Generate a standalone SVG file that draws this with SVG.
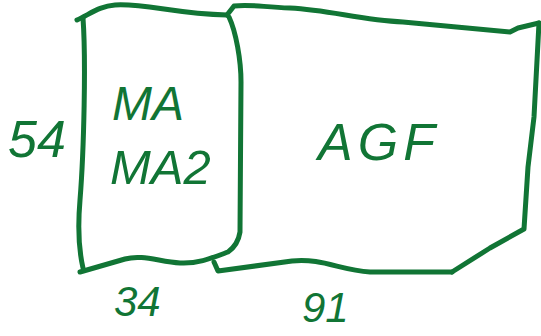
<svg xmlns="http://www.w3.org/2000/svg" width="541" height="336" viewBox="0 0 541 336">
<style>
.s{fill:none;stroke:#117535;stroke-width:5;stroke-linecap:round;stroke-linejoin:round}
.t{fill:#117535;font-family:"Liberation Sans",Arial,sans-serif;font-style:italic}
</style>
<rect width="541" height="336" fill="#fff"/>
<g id="box-ma">
<path class="s" d="M77,20 C90,14 100,6 115,5 C145,3 175,14 227,15"/>
<path class="s" d="M83,18 C86,60 84,150 80,200 C77,235 80,255 83,268"/>
<path class="s" d="M229,17 C236,32 241,60 241,82 L240,232 Q238,245 228,252 C212,258 198,264 180,263 C160,262 142,254 125,259 L80,272"/>
<text class="t" x="112" y="120" font-size="48">MA</text>
<text class="t" x="110" y="184" font-size="49">MA2</text>
</g>
<g id="box-agf">
<path class="s" d="M227,15 L234,6 C250,4 262,7 290,8 C330,10 360,20 403,22 L510,32 L518,28 L539,23"/>
<path class="s" d="M539,23 L534,117 L528,167 L524,229 L490,248 L452,272"/>
<path class="s" d="M452,272 L370,272 C340,270 322,258 292,261 L218,271 L214,262"/>
<text class="t" x="318" y="160" font-size="52" letter-spacing="5">AGF</text>
</g>
<g id="labels">
<text class="t" x="8" y="157" font-size="52">54</text>
<text class="t" x="114" y="316" font-size="42">34</text>
<text class="t" x="302" y="322" font-size="42">91</text>
</g>
<g id="connectors"></g>
</svg>
